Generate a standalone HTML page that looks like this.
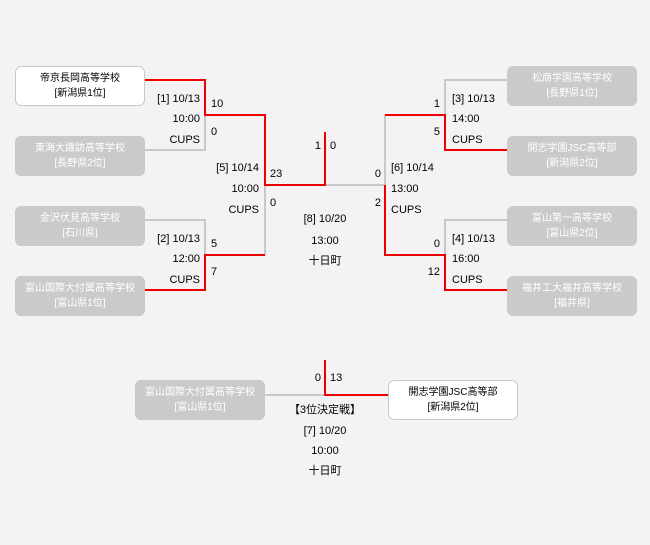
<!DOCTYPE html>
<html><head><meta charset="utf-8"><style>
html,body{margin:0;padding:0;background:#f4f2f5;}
svg{display:block;font-family:"Liberation Sans","Noto Sans CJK JP",sans-serif;}
</style></head><body>
<svg width="650" height="545" viewBox="0 0 650 545" xmlns="http://www.w3.org/2000/svg">
<rect width="650" height="545" fill="#f4f2f5"/>
<g stroke-width="2" fill="none">
<!-- grey lines -->
<g stroke="#c8c8c8">
<polyline points="145,150 205,150 205,115"/>
<polyline points="145,220 205,220 205,255"/>
<polyline points="265,185 265,255"/>
<polyline points="325,185 385,185 385,115"/>
<polyline points="507,80 445,80 445,115"/>
<polyline points="507,220 445,220 445,255"/>
<polyline points="264,395 325,395"/>
</g>
<g stroke="#ee0000">
<polyline points="145,80 205,80 205,115 265,115 265,185 325,185 325,132"/>
<polyline points="145,290 205,290 205,255 265,255"/>
<polyline points="385,115 445,115 445,150 507,150"/>
<polyline points="385,185 385,255 445,255 445,290 507,290"/>
<polyline points="325,360 325,395 388,395"/>
</g>
</g>
<!-- boxes -->
<g stroke-width="1">
<rect x="15.5" y="66.5" width="129" height="39" rx="6" fill="#ffffff" stroke="#c8c8c8"/>
<rect x="15" y="136" width="130" height="40" rx="6" fill="#cacbc8"/>
<rect x="15" y="206" width="130" height="40" rx="6" fill="#cacbc8"/>
<rect x="15" y="276" width="130" height="40" rx="6" fill="#cacbc8"/>
<rect x="507" y="66" width="130" height="40" rx="6" fill="#cacbc8"/>
<rect x="507" y="136" width="130" height="40" rx="6" fill="#cacbc8"/>
<rect x="507" y="206" width="130" height="40" rx="6" fill="#cacbc8"/>
<rect x="507" y="276" width="130" height="40" rx="6" fill="#cacbc8"/>
<rect x="135" y="380" width="130" height="40" rx="6" fill="#cacbc8"/>
<rect x="388.5" y="380.5" width="129" height="39" rx="6" fill="#ffffff" stroke="#c8c8c8"/>
</g>
<g font-size="10" text-anchor="middle">
<text x="80" y="81" fill="#000">帝京長岡高等学校</text><text x="80" y="96" fill="#000">[新潟県1位]</text>
<text x="80" y="151" fill="#fff">東海大諏訪高等学校</text><text x="80" y="166" fill="#fff">[長野県2位]</text>
<text x="80" y="221" fill="#fff">金沢伏見高等学校</text><text x="80" y="236" fill="#fff">[石川県]</text>
<text x="80" y="291" fill="#fff">富山国際大付属高等学校</text><text x="80" y="306" fill="#fff">[富山県1位]</text>
<text x="572" y="81" fill="#fff">松商学園高等学校</text><text x="572" y="96" fill="#fff">[長野県1位]</text>
<text x="572" y="151" fill="#fff">開志学園JSC高等部</text><text x="572" y="166" fill="#fff">[新潟県2位]</text>
<text x="572" y="221" fill="#fff">富山第一高等学校</text><text x="572" y="236" fill="#fff">[富山県2位]</text>
<text x="572" y="291" fill="#fff">福井工大福井高等学校</text><text x="572" y="306" fill="#fff">[福井県]</text>
<text x="200" y="395" fill="#fff">富山国際大付属高等学校</text><text x="200" y="410" fill="#fff">[富山県1位]</text>
<text x="453" y="395" fill="#000">開志学園JSC高等部</text><text x="453" y="410" fill="#000">[新潟県2位]</text>
</g>
<g font-size="11" fill="#000">
<g text-anchor="end">
<text x="200" y="102">[1] 10/13</text><text x="200" y="122">10:00</text><text x="200" y="143">CUPS</text>
<text x="200" y="242">[2] 10/13</text><text x="200" y="262">12:00</text><text x="200" y="283">CUPS</text>
<text x="259" y="171">[5] 10/14</text><text x="259" y="192">10:00</text><text x="259" y="213">CUPS</text>
<text x="321" y="149">1</text>
<text x="381" y="177">0</text><text x="381" y="206">2</text>
<text x="440" y="107">1</text><text x="440" y="135">5</text>
<text x="440" y="247">0</text><text x="440" y="275">12</text>
<text x="321" y="381">0</text>
</g>
<text x="211" y="107">10</text><text x="211" y="135">0</text>
<text x="211" y="247">5</text><text x="211" y="275">7</text>
<text x="270" y="177">23</text><text x="270" y="206">0</text>
<text x="330" y="149">0</text>
<text x="452" y="102">[3] 10/13</text><text x="452" y="122">14:00</text><text x="452" y="143">CUPS</text>
<text x="452" y="242">[4] 10/13</text><text x="452" y="262">16:00</text><text x="452" y="283">CUPS</text>
<text x="391" y="171">[6] 10/14</text><text x="391" y="192">13:00</text><text x="391" y="213">CUPS</text>
<text x="330" y="381">13</text>
<g text-anchor="middle">
<text x="325" y="222">[8] 10/20</text><text x="325" y="244">13:00</text><text x="325" y="264">十日町</text>
<text x="325" y="413">【3位決定戦】</text><text x="325" y="434">[7] 10/20</text><text x="325" y="454">10:00</text><text x="325" y="474">十日町</text>
</g>
</g>
</svg>
</body></html>
